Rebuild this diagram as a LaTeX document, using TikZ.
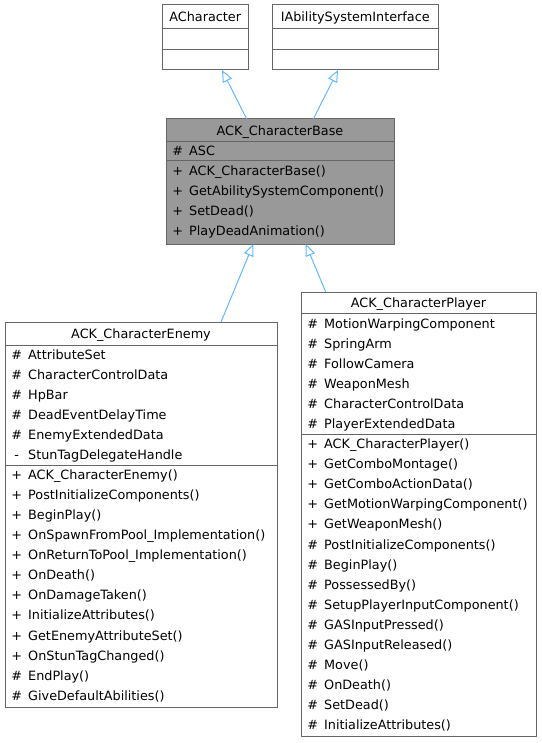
\documentclass[tikz,border=0pt]{standalone}
\usepackage{fontspec}
\setmainfont{DejaVu Sans}
\usetikzlibrary{arrows.meta}
\definecolor{edgeblue}{HTML}{63B8FF}
\definecolor{boxgray}{HTML}{666666}
\definecolor{basefill}{HTML}{999999}
\begin{document}
\begin{tikzpicture}[x=1pt,y=-1pt,
  classbox/.style={draw=boxgray,line width=1pt,inner sep=0pt,outer sep=0pt,anchor=north west},
  classtitle/.style={font=\fontsize{12.8}{14}\selectfont,inner sep=0pt,anchor=base},
  member/.style={font=\fontsize{12.8}{14}\selectfont,inner sep=0pt,anchor=base west},
  sepline/.style={draw=boxgray,line width=1pt},
  inh/.style={draw=edgeblue,line width=1pt,-{Triangle[open,length=12pt,width=10pt]}}]
\useasboundingbox (0,0) rectangle (541,743);

% ACharacter
\node[classbox,minimum width=86.5pt,minimum height=65pt] (ach) at (162,5) {};
\node[classtitle] (ach-t) at (205.25,21.6) {ACharacter};
\draw[sepline] (162,29) -- (248.5,29);
\draw[sepline] (162,49.5) -- (248.5,49.5);

% IAbilitySystemInterface
\node[classbox,minimum width=166.5pt,minimum height=65pt] (iasi) at (272,5) {};
\node[classtitle] (iasi-t) at (355.25,21.6) {IAbilitySystemInterface};
\draw[sepline] (272,29) -- (438.5,29);
\draw[sepline] (272,49.5) -- (438.5,49.5);

% ACK_CharacterBase
\node[classbox,fill=basefill,minimum width=228pt,minimum height=125pt] (base) at (166,119) {};
\node[classtitle] (base-t) at (280,135.2) {ACK\_CharacterBase};
\draw[sepline] (166,141.5) -- (394,141.5);
\draw[sepline] (166,161) -- (394,161);
\node[member] (base-a1) at (173,155.8) {\makebox[9pt][c]{\#}\hspace{7pt}ASC};
\foreach \s/\t [count=\i] in {+/ACK\_CharacterBase(),+/GetAbilitySystemComponent(),+/SetDead(),+/PlayDeadAnimation()}
  \node[member] (base-m\i) at (173,{175.6+(\i-1)*20}) {\makebox[9pt][c]{\s}\hspace{7pt}\t};

% ACK_CharacterEnemy
\node[classbox,fill=white,minimum width=272pt,minimum height=385pt] (enemy) at (5,322) {};
\node[classtitle] (enemy-t) at (141,338.1) {ACK\_CharacterEnemy};
\draw[sepline] (5,345) -- (277,345);
\draw[sepline] (5,465) -- (277,465);
\foreach \s/\t [count=\i] in {\#/AttributeSet,\#/CharacterControlData,\#/HpBar,\#/DeadEventDelayTime,\#/EnemyExtendedData,-/StunTagDelegateHandle}
  \node[member] (enemy-a\i) at (12,{359.6+(\i-1)*20}) {\makebox[9pt][c]{\s}\hspace{7pt}\t};
\foreach \s/\t [count=\i] in {+/ACK\_CharacterEnemy(),+/PostInitializeComponents(),+/BeginPlay(),+/OnSpawnFromPool\_Implementation(),+/OnReturnToPool\_Implementation(),+/OnDeath(),+/OnDamageTaken(),+/InitializeAttributes(),+/GetEnemyAttributeSet(),+/OnStunTagChanged(),\#/EndPlay(),\#/GiveDefaultAbilities()}
  \node[member] (enemy-m\i) at (12,{479.6+(\i-1)*20.05}) {\makebox[9pt][c]{\s}\hspace{7pt}\t};

% ACK_CharacterPlayer
\node[classbox,fill=white,minimum width=235pt,minimum height=444pt] (player) at (301,292) {};
\node[classtitle] (player-t) at (418.5,307.4) {ACK\_CharacterPlayer};
\draw[sepline] (301,313.5) -- (536,313.5);
\draw[sepline] (301,434) -- (536,434);
\foreach \s/\t [count=\i] in {\#/MotionWarpingComponent,\#/SpringArm,\#/FollowCamera,\#/WeaponMesh,\#/CharacterControlData,\#/PlayerExtendedData}
  \node[member] (player-a\i) at (308,{328+(\i-1)*20.1}) {\makebox[9pt][c]{\s}\hspace{7pt}\t};
\foreach \s/\t [count=\i] in {+/ACK\_CharacterPlayer(),+/GetComboMontage(),+/GetComboActionData(),+/GetMotionWarpingComponent(),+/GetWeaponMesh(),\#/PostInitializeComponents(),\#/BeginPlay(),\#/PossessedBy(),\#/SetupPlayerInputComponent(),\#/GASInputPressed(),\#/GASInputReleased(),\#/Move(),\#/OnDeath(),\#/SetDead(),\#/InitializeAttributes()}
  \node[member] (player-m\i) at (308,{448.6+(\i-1)*20.08}) {\makebox[9pt][c]{\s}\hspace{7pt}\t};

% inheritance connectors
\draw[inh] ([xshift=-33.3pt]base.north) -- ([xshift=16.75pt]ach.south);
\draw[inh] ([xshift=33.3pt]base.north) -- ([xshift=-17.2pt]iasi.south);
\draw[inh] ([xshift=80pt]enemy.north) -- ([xshift=-26.7pt]base.south);
\draw[inh] ([xshift=-92.8pt]player.north) -- ([xshift=25.7pt]base.south);
\end{tikzpicture}
\end{document}
